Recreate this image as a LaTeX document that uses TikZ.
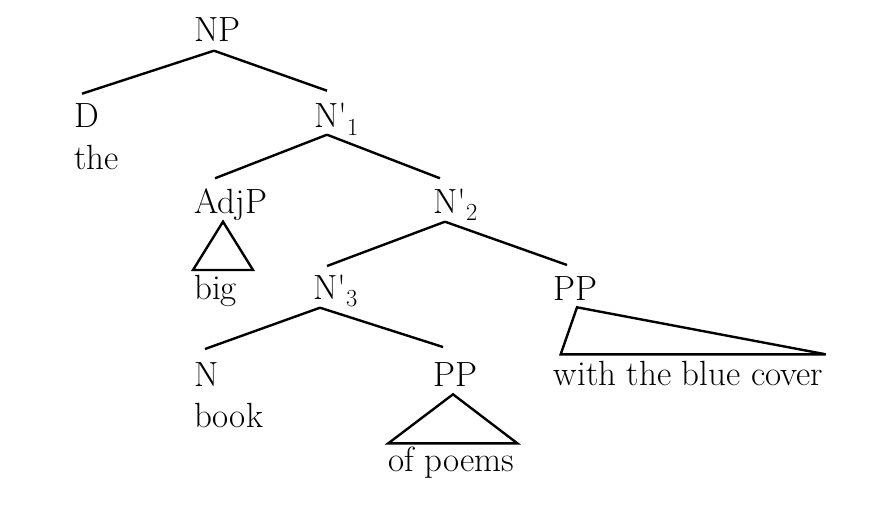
\documentclass[tikz,border=0pt]{standalone}
\newcommand{\nbar}[1]{N\textquotesingle\rlap{\smash{\textsubscript{#1}}}}

\begin{document}
\begin{tikzpicture}[x=1pt, y=-1pt, line width=2.4pt,
  every node/.style={inner sep=0pt, anchor=base west, font=\fontsize{35}{42}\selectfont}]
\useasboundingbox (0,0) rectangle (888,511);
% 第一层
\node (np) at (193,41.7) {NP};

% 第二层
\node (d) at (73,127.7) {D};
\node (the) at (73,169) {the};
\node (n1) at (313,127.7) {\nbar{1}};

% 第三层
\node (adjp) at (193,213.3) {AdjP};
\node (big) at (193,299) {big};
\node (n2) at (432,213.3) {\nbar{2}};

% 第四层
\node (n3) at (312,299) {\nbar{3}};
\node (pp1) at (552,300) {PP};
\node (cover) at (552.7,385) {with the blue cover};

% 第五层
\node (n) at (193,386) {N};
\node (book) at (193,427) {book};
\node (pp2) at (432,386) {PP};
\node (poems) at (387.3,471.7) {of poems};

% 连线
\draw ([xshift=21pt,yshift=-9pt]np.base west) -- ([xshift=9pt,yshift=34pt]d.base west);
\draw ([xshift=21pt,yshift=-9pt]np.base west) -- ([xshift=14pt,yshift=37pt]n1.base west);
\draw ([xshift=14pt,yshift=-7pt]n1.base west) -- ([xshift=22pt,yshift=35pt]adjp.base west);
\draw ([xshift=14pt,yshift=-7pt]n1.base west) -- ([xshift=8pt,yshift=35pt]n2.base west);
\draw ([xshift=13pt,yshift=-8.4pt]n2.base west) -- ([xshift=15pt,yshift=33pt]n3.base west);
\draw ([xshift=13pt,yshift=-8.4pt]n2.base west) -- ([xshift=15pt,yshift=35pt]pp1.base west);
\draw ([xshift=8pt,yshift=-8.7pt]n3.base west) -- ([xshift=12pt,yshift=37pt]n.base west);
\draw ([xshift=8pt,yshift=-8.7pt]n3.base west) -- ([xshift=11pt,yshift=39pt]pp2.base west);

% 三角形
\draw ([xshift=30pt,yshift=-8.4pt]adjp.base west) -- ([yshift=29pt]big.base west)
  -- ([xshift=60pt,yshift=29pt]big.base west) -- cycle;
\draw ([xshift=21pt,yshift=-8.3pt]pp2.base west) -- ([xshift=1pt,yshift=28.4pt]poems.base west)
  -- ([xshift=130pt,yshift=28.4pt]poems.base west) -- cycle;
\draw ([xshift=25pt,yshift=-7.3pt]pp1.base west) -- ([xshift=8pt,yshift=30.7pt]cover.base west)
  -- ([xshift=273pt,yshift=30.7pt]cover.base west) -- cycle;
\end{tikzpicture}
\end{document}
